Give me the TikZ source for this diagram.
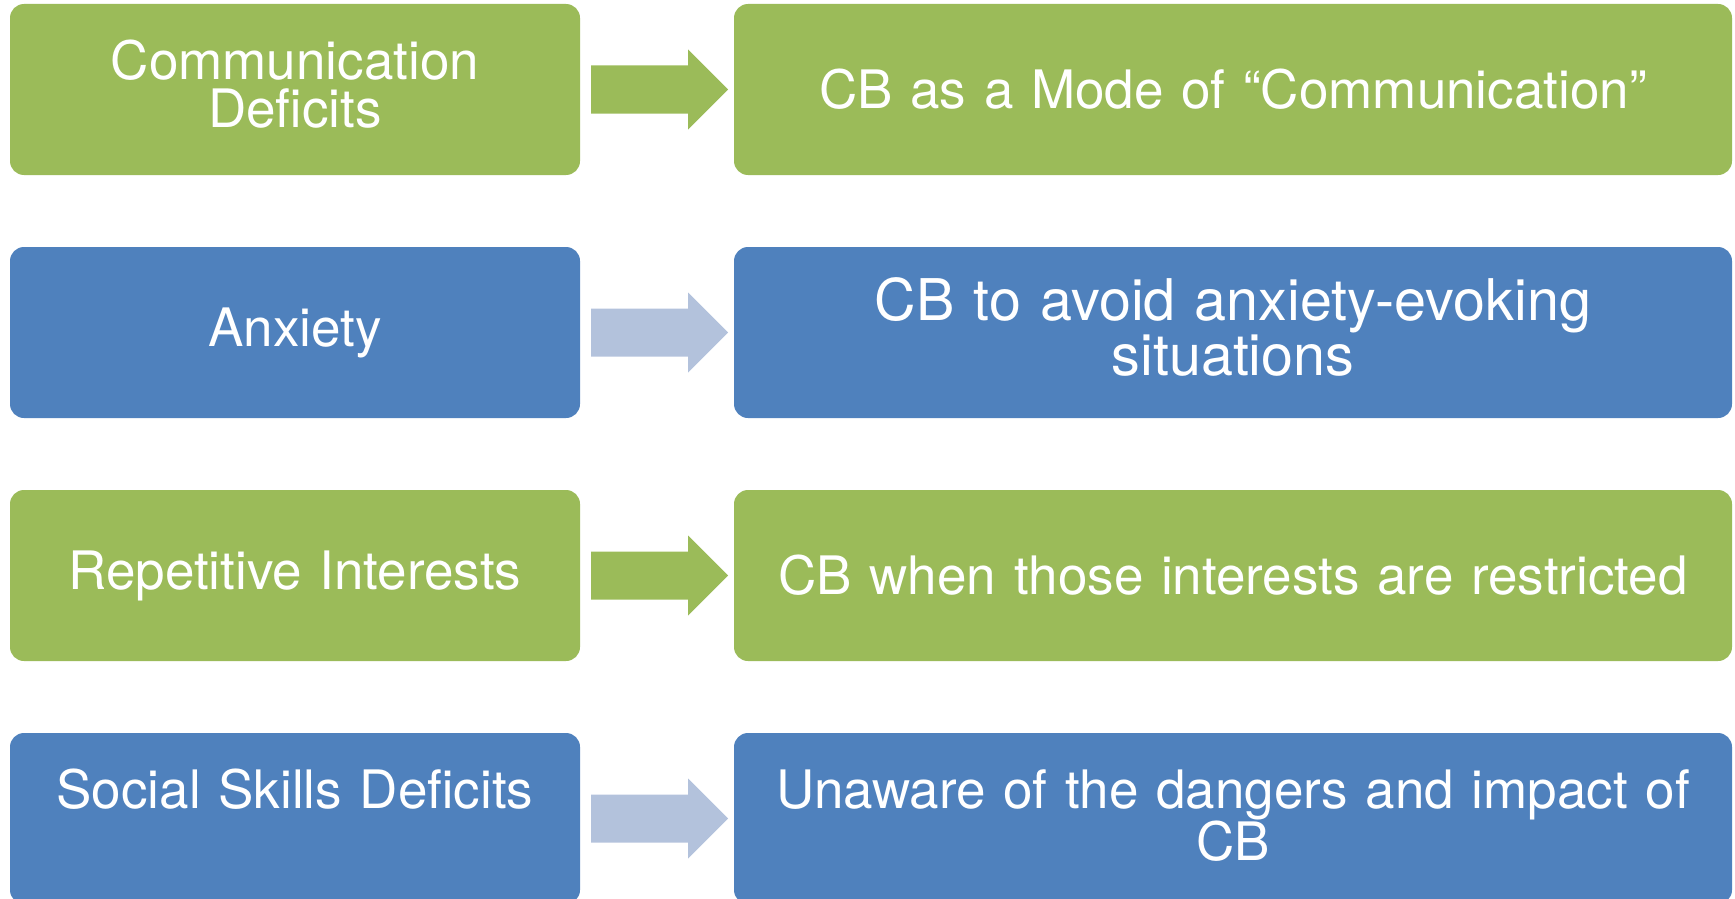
\documentclass[tikz,border=0pt]{standalone}
\usepackage{fontspec}
\setmainfont{TeX Gyre Heros}
\usetikzlibrary{calc}
\definecolor{boxgreen}{HTML}{9BBB59}
\definecolor{boxblue}{HTML}{4F81BD}
\definecolor{arrowblue}{HTML}{B3C2DC}
\begin{document}
\begin{tikzpicture}[x=1pt,y=-1pt,
  card/.style={rounded corners=14pt, inner sep=0pt, minimum height=171pt, text=white, align=center, font=\fontsize{53}{48}\selectfont},
  leftcard/.style={card, minimum width=570pt, text width=550pt},
  rightcard/.style={card, minimum width=998pt, text width=960pt},
  twoline/.style={text depth=59pt},
  greencard/.style={fill=boxgreen},
  bluecard/.style={fill=boxblue}]
\useasboundingbox (0,0) rectangle (1735,899);
% boxes
\node[leftcard,greencard,twoline] (l1) at (295,89.5) {Communication\\Deficits};
\node[rightcard,greencard] (r1) at (1233,89.5) {CB as a Mode of “Communication”};
\node[leftcard,bluecard] (l2) at (295,332.5) {Anxiety};
\node[rightcard,bluecard,font=\fontsize{57.5}{53}\selectfont,text depth=66pt] (r2) at (1233,332.5) {CB to avoid anxiety-evoking\\situations};
\node[leftcard,greencard] (l3) at (295,575.5) {Repetitive Interests};
\node[rightcard,greencard] (r3) at (1233,575.5) {CB when those interests are restricted};
\node[leftcard,bluecard,twoline] (l4) at (295,818.5) {Social Skills Deficits\\\mbox{}};
\node[rightcard,bluecard,twoline] (r4) at (1233,818.5) {Unaware of the dangers and impact of\\CB};
% block arrows
\foreach \i/\c in {1/boxgreen,2/arrowblue,3/boxgreen,4/arrowblue}{
  \coordinate (a\i) at ($(l\i.east)+(11,0)$);
  \fill[\c] (a\i) ++(0,-24) -- ++(97,0) -- ++(0,-16) -- ++(40,40) -- ++(-40,40) -- ++(0,-16) -- ++(-97,0) -- cycle;
}
\end{tikzpicture}
\end{document}
